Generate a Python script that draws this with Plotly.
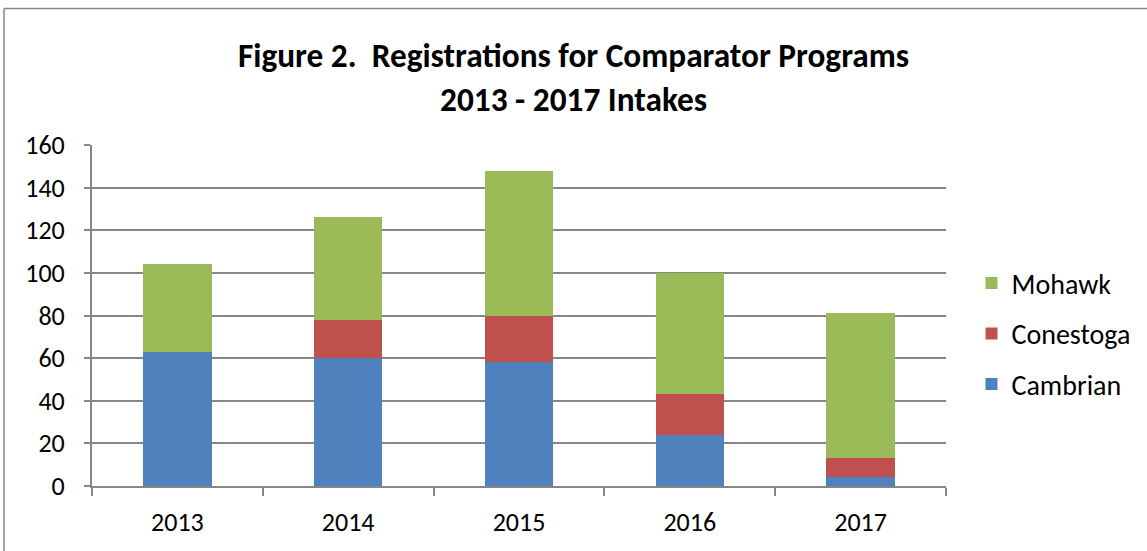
import plotly.graph_objects as go

years = ["2013", "2014", "2015", "2016", "2017"]
cambrian = [63, 60, 58, 24, 4]
conestoga = [0, 18, 22, 19, 9]
mohawk = [41, 48, 68, 57, 68]
y_ticks = [0, 20, 40, 60, 80, 100, 120, 140, 160]

font_family = "Carlito, Calibri, 'Open Sans', 'Liberation Sans', sans-serif"

fig = go.Figure()
series = [("Cambrian", cambrian, "#4F81BD", 3),
          ("Conestoga", conestoga, "#C0504D", 2),
          ("Mohawk", mohawk, "#9BBB59", 1)]
for name, vals, col, rank in series:
    fig.add_trace(go.Bar(x=years, y=vals, name=name, legendgroup=name, legendrank=rank,
                         marker=dict(color=col, line=dict(width=0))))

fig.update_layout(
    barmode="stack",
    bargap=0.6,
    width=1147, height=551,
    margin=dict(l=92, r=201, t=145, b=65, autoexpand=False),
    paper_bgcolor="white", plot_bgcolor="white",
    font=dict(family=font_family, size=26, color="black"),
    title=dict(text="<b>Figure 2.  Registrations for Comparator Programs<br>2013 - 2017 Intakes</b>",
               x=0.5, xref="container", xanchor="center",
               y=0.878, yref="container", yanchor="middle",
               font=dict(size=33.3, family=font_family)),
    legend=dict(traceorder="grouped", tracegroupgap=11,
                xref="container", yref="container",
                x=0.847, xanchor="left", y=0.394, yanchor="middle",
                font=dict(size=28), itemwidth=30),
    showlegend=True,
)
fig.update_xaxes(type="category", tickson="boundaries", ticks="outside", ticklen=8,
                 tickcolor="#868686", tickwidth=2, showline=True, linecolor="#868686",
                 linewidth=2, showgrid=False, tickfont=dict(size=26), ticklabelstandoff=12)
fig.update_yaxes(range=[0, 160], tickvals=y_ticks, ticks="outside", ticklen=6,
                 tickcolor="#868686", tickwidth=2, showline=True, linecolor="#868686",
                 linewidth=2, showgrid=True, gridcolor="#868686", gridwidth=2,
                 zeroline=False, tickfont=dict(size=26), ticklabelstandoff=14)

fig.add_shape(type="line", xref="paper", yref="paper", x0=-0.103, x1=1.3, y0=1.40, y1=1.40,
              line=dict(color="#868686", width=1.5))
fig.add_shape(type="line", xref="paper", yref="paper", x0=-0.103, x1=-0.103, y0=1.40, y1=-0.3,
              line=dict(color="#868686", width=1.5))

fig.write_html("out.html", config={"displayModeBar": False},
               post_script="document.body.style.margin='0';")
